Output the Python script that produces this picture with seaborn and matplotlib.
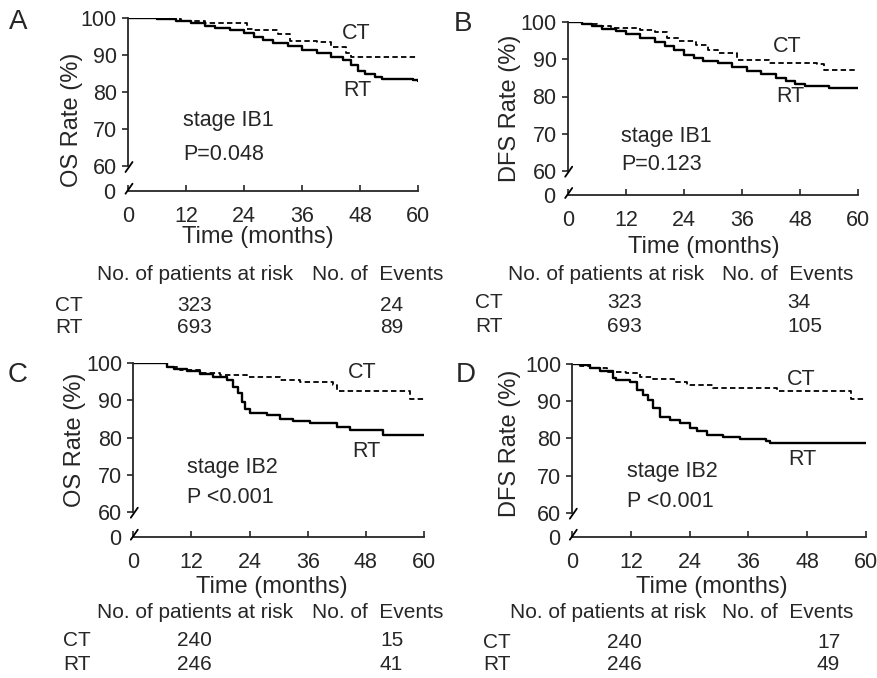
import matplotlib.lines as mlines
import matplotlib.pyplot as plt
import pandas as pd
import seaborn as sns

W, H = 878, 678

# survival curves (month, rate %)
a_ct_t = [0, 8, 11, 16, 24.5, 26, 31, 33.5, 39, 42, 45, 46, 60]
a_ct_s = [100, 99.7, 99.2, 98.6, 97.2, 96.8, 95.8, 93.9, 93.5, 92.3, 90.5, 89.6, 89.6]
a_rt_t = [0, 6, 10, 13, 16, 18, 21, 24, 26, 28, 30, 33, 36, 39, 42, 44.5, 46, 47.5, 49, 51, 52.5, 59, 60]
a_rt_s = [100, 99.8, 99.3, 98.7, 98.0, 97.5, 96.8, 96.0, 95.0, 94.2, 93.3, 92.4, 91.5, 90.6, 89.6,
          88.6, 87.4, 85.8, 84.8, 84.0, 83.6, 83.3, 83.0]

b_ct_t = [0, 3, 6, 9, 15, 18, 20.5, 23, 26.5, 29, 31, 35, 41.5, 51.5, 53, 60]
b_ct_s = [100, 99.6, 99.0, 98.5, 98.0, 97.3, 95.8, 95.0, 93.9, 92.5, 91.6, 89.9, 89.1, 88.8, 87.2, 87.2]
b_rt_t = [0, 3, 5, 7, 10, 12, 15, 18, 20, 22, 24, 26, 28, 31, 34, 37, 40, 43, 45, 47, 49, 54, 60]
b_rt_s = [100, 99.6, 98.9, 98.3, 97.7, 96.8, 95.9, 94.8, 93.7, 92.5, 91.2, 90.3, 89.6, 89.0, 88.0,
          87.0, 86.0, 84.9, 84.1, 83.5, 82.9, 82.3, 82.3]

c_ct_t = [0, 6.9, 9.6, 13.8, 17.9, 23.4, 30.3, 34.4, 41.3, 42, 57.1, 60]
c_ct_s = [100, 99.0, 98.2, 97.3, 96.9, 96.4, 95.5, 95.0, 94.1, 92.4, 90.5, 90.5]
c_rt_t = [0, 6.9, 8.5, 11, 13.8, 16.5, 19.3, 20.6, 21.7, 22.4, 23, 24.1, 27.5, 30.3, 33, 36.5,
          42, 44.7, 51.6, 60]
c_rt_s = [100, 99.0, 98.5, 98.0, 97.0, 96.4, 95.5, 93.7, 91.9, 89.6, 87.8, 86.7, 86.0, 85.1, 84.5,
          83.8, 82.7, 82.0, 80.7, 80.7]

d_ct_t = [0, 1.6, 3.6, 7, 11, 13.8, 16.6, 20.7, 23.4, 28.8, 41.8, 57, 60]
d_ct_s = [100, 99.5, 98.8, 97.9, 97.5, 96.6, 95.9, 95.1, 94.4, 93.5, 92.8, 90.6, 90.6]
d_rt_t = [0, 1.6, 3.6, 5.7, 8.4, 9, 11.8, 13.2, 14.5, 15.5, 16.6, 17.9, 20, 22, 24.1, 25.4, 27.5,
          30.9, 34.3, 39.7, 40.4, 60]
d_rt_s = [100, 99.6, 98.8, 98.2, 96.2, 95.7, 95.1, 93.0, 91.7, 90.4, 88.2, 85.7, 85.0, 84.1, 82.8,
          81.9, 81.0, 80.3, 79.7, 79.2, 78.7, 78.7]

# risk tables
groups = ["CT", "RT"]
a_risk, a_events = [323, 693], [24, 89]
b_risk, b_events = [323, 693], [34, 105]
c_risk, c_events = [240, 246], [15, 41]
d_risk, d_events = [240, 246], [17, 49]

x_ticks = [0, 12, 24, 36, 48, 60]
y_ticks = [60, 70, 80, 90, 100]

sns.set_style("ticks")
plt.rcParams["font.family"] = ["Liberation Sans", "DejaVu Sans"]
plt.rcParams["axes.linewidth"] = 1.3

fig = plt.figure(figsize=(W / 100, H / 100), dpi=100)


def ftext(x, y, s, **kw):
    fig.text(x / W, 1 - y / H, s, **kw)


def slash(x, y):
    fig.add_artist(mlines.Line2D([(x - 3.5) / W, (x + 3.5) / W],
                                 [1 - (y + 5) / H, 1 - (y - 5) / H],
                                 color="black", lw=1.3))


def km_panel(geo, ct_t, ct_s, rt_t, rt_s, ylabel, stage, pval, txt):
    x0, x60, y100, y60, y0 = geo
    w = (x60 - x0) / W
    top = fig.add_axes([x0 / W, 1 - y60 / H, w, (y60 - y100) / H])
    bot = fig.add_axes([x0 / W, 1 - y0 / H, w, 3 / H])

    df = pd.DataFrame({
        "month": ct_t + rt_t,
        "rate": ct_s + rt_s,
        "group": ["CT"] * len(ct_t) + ["RT"] * len(rt_t),
    })
    sns.lineplot(data=df, x="month", y="rate", style="group",
                 dashes={"CT": (3, 1.8), "RT": ""}, color="black",
                 estimator=None, sort=False, drawstyle="steps-post",
                 legend=False, ax=top)
    for line, lw in zip(top.lines, [1.3, 1.7]):
        line.set_linewidth(lw)

    top.set_xlim(0, 60)
    top.set_ylim(60, 100)
    top.set_yticks(y_ticks)
    top.set_xticks([])
    top.set_xlabel("")
    top.set_ylabel("")
    top.tick_params(axis="y", labelsize=15.5, length=4, width=1.2, pad=4)
    for side in ["top", "right", "bottom"]:
        top.spines[side].set_visible(False)
    top.patch.set_alpha(0)

    bot.set_xlim(0, 60)
    bot.set_ylim(0, 1)
    bot.set_xticks(x_ticks)
    bot.set_yticks([0])
    bot.set_yticklabels(["0"])
    bot.tick_params(axis="x", direction="in", labelsize=15.5, length=4, width=1.2, pad=11)
    bot.tick_params(axis="y", labelsize=15.5, length=0, pad=9)
    for side in ["top", "right", "left"]:
        bot.spines[side].set_visible(False)
    bot.patch.set_alpha(0)

    slash(x0 + 1, y60 + 1)
    slash(x0 + 1, y0 - 2)

    # in-plot labels (data coordinates)
    for key, s in [("stage", stage), ("p", pval), ("ct", "CT"), ("rt", "RT")]:
        tx, ty = txt[key]
        top.text(tx, ty, s, fontsize=15.5, ha="left", va="center")
    return top


panels = [
    dict(geo=(128, 418.3, 18.3, 166, 190.7), data=(a_ct_t, a_ct_s, a_rt_t, a_rt_s),
         ylabel="OS Rate (%)", stage="stage IB1", p="P=0.048", letter="A",
         letter_xy=(9, 22), ylab_xy=(72, 120), xlab_xy=(258, 237),
         txt=dict(stage=(11.4, 72.2), p=(11.4, 63.0), ct=(44.3, 95.9), rt=(44.5, 80.5)),
         risk=a_risk, events=a_events,
         table=(97, 312, 275, 55, 177, 380, 305, 328)),
    dict(geo=(567.7, 858.3, 22.3, 170.7, 195), data=(b_ct_t, b_ct_s, b_rt_t, b_rt_s),
         ylabel="DFS Rate (%)", stage="stage IB1", p="P=0.123", letter="B",
         letter_xy=(454, 24), ylab_xy=(510, 108), xlab_xy=(704, 247),
         txt=dict(stage=(11.1, 69.2), p=(11.1, 61.6), ct=(42.3, 93.4), rt=(43.1, 79.9)),
         risk=b_risk, events=b_events,
         table=(508, 722, 275, 475, 607, 787, 303, 327)),
    dict(geo=(133.3, 424, 363.3, 511.7, 536.7), data=(c_ct_t, c_ct_s, c_rt_t, c_rt_s),
         ylabel="OS Rate (%)", stage="stage IB2", p="P <0.001", letter="C",
         letter_xy=(8, 375), ylab_xy=(75, 440), xlab_xy=(272, 587),
         txt=dict(stage=(11.1, 72.0), p=(11.1, 63.7), ct=(44.3, 97.4), rt=(45.1, 76.1)),
         risk=c_risk, events=c_events,
         table=(97, 312, 612, 63, 177, 380, 641, 665)),
    dict(geo=(572.3, 865.7, 364, 512.7, 536.7), data=(d_ct_t, d_ct_s, d_rt_t, d_rt_s),
         ylabel="DFS Rate (%)", stage="stage IB2", p="P <0.001", letter="D",
         letter_xy=(456, 375), ylab_xy=(510, 443), xlab_xy=(712, 587),
         txt=dict(stage=(11.2, 71.0), p=(11.2, 62.9), ct=(43.9, 95.7), rt=(44.1, 74.2)),
         risk=d_risk, events=d_events,
         table=(510, 722, 612, 483, 607, 817, 643, 665)),
]

for p in panels:
    km_panel(p["geo"], *p["data"], p["ylabel"], p["stage"], p["p"], p["txt"])
    ftext(*p["letter_xy"], p["letter"], fontsize=20, ha="left", va="center")
    ftext(*p["ylab_xy"], p["ylabel"], fontsize=17, rotation=90, ha="center", va="center")
    ftext(*p["xlab_xy"], "Time (months)", fontsize=17, ha="center", va="center")

    hx, ex, hy, gx, rx, evx, r1, r2 = p["table"]
    ftext(hx, hy, "No. of patients at risk", fontsize=15, ha="left", va="center")
    ftext(ex, hy, "No. of  Events", fontsize=15, ha="left", va="center")
    for g, n, e, ry in zip(groups, p["risk"], p["events"], [r1, r2]):
        ftext(gx, ry, g, fontsize=15, ha="left", va="center")
        ftext(rx, ry, str(n), fontsize=15, ha="left", va="center")
        ftext(evx, ry, str(e), fontsize=15, ha="left", va="center")

fig.savefig("out.png", dpi=100)
